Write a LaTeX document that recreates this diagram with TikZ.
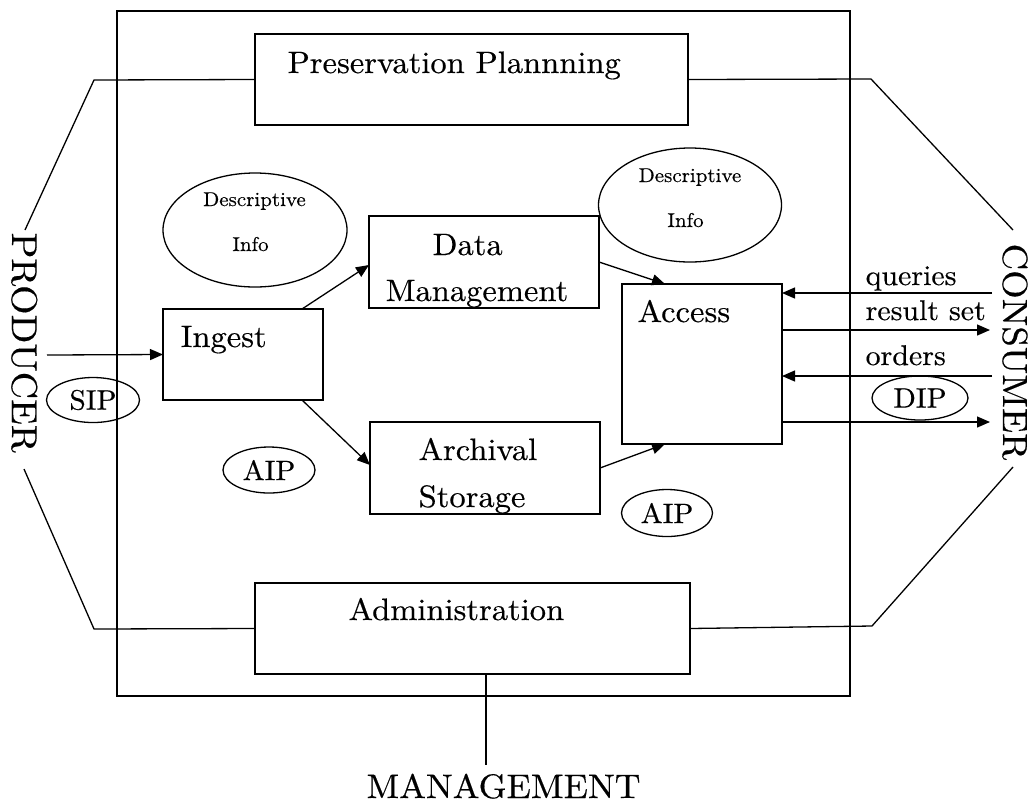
\documentclass[tikz,border=0pt]{standalone}
\usepackage{fontspec}
\setmainfont{lmroman10-regular.otf}[FakeStretch=1.05, FakeBold=0.4]
\usetikzlibrary{arrows.meta,shapes.geometric}
\begin{document}
\begin{tikzpicture}[x=1pt,y=-1pt, line width=1.3pt,
  box/.style={draw, rectangle, inner sep=0pt, outer sep=0pt},
  bubble/.style={draw, ellipse, inner sep=0pt, outer sep=0pt, font=\fontsize{28}{32}\selectfont},
  lbl/.style={inner sep=0pt, anchor=base west, font=\fontsize{31}{36}\selectfont},
  tinylbl/.style={inner sep=0pt, anchor=base, font=\fontsize{20}{24}\selectfont},
  flowlbl/.style={inner sep=0pt, anchor=base west, font=\fontsize{28.5}{32}\selectfont},
  party/.style={inner sep=0pt, anchor=base west, rotate=-90, font=\fontsize{36}{43}\selectfont},
  flow/.style={-{Triangle[length=13pt,width=11pt]}}]

\useasboundingbox (0,0) rectangle (1030,807);

% OAIS boundary
\node[box, minimum width=733pt, minimum height=685pt] (oais) at (483.5,353.5) {};

% functional entities
\node[box, minimum width=433pt, minimum height=91pt] (plan) at (471.5,79.5) {};
\node[box, minimum width=435pt, minimum height=91pt] (admin) at (472.5,628.5) {};
\node[box, minimum width=160pt, minimum height=91pt] (ingest) at (243,354.5) {};
\node[box, minimum width=230pt, minimum height=92pt] (dm) at (484,262) {};
\node[box, minimum width=230pt, minimum height=92pt] (arch) at (485,468) {};
\node[box, minimum width=160pt, minimum height=160pt] (access) at (702,364) {};

\node[lbl] (planT) at (287,73) {Preservation Plannning};
\node[lbl] (adminT) at (348,620) {Administration};
\node[lbl] (ingestT) at (180,347) {Ingest};
\node[lbl] (dmT1) at (432,255) {Data};
\node[lbl] (dmT2) at (385,301) {Management};
\node[lbl] (archT1) at (418,460) {Archival};
\node[lbl] (archT2) at (418,507) {Storage};
\node[lbl] (accessT) at (637,322) {Access};

% information objects
\node[bubble, minimum width=184pt, minimum height=114pt] (di1) at (255,230) {};
\node[tinylbl] (di1a) at (254.5,206) {Descriptive};
\node[tinylbl] (di1b) at (250.5,251) {Info};
\node[bubble, minimum width=183pt, minimum height=114pt] (di2) at (690,205) {};
\node[tinylbl] (di2a) at (690,182) {Descriptive};
\node[tinylbl] (di2b) at (685.5,227) {Info};
\node[bubble, minimum width=93pt, minimum height=45pt] (sip) at (93,400) {SIP};
\node[bubble, minimum width=92pt, minimum height=46pt] (aip1) at (269,470) {AIP};
\node[bubble, minimum width=91pt, minimum height=47pt] (aip2) at (667,513) {AIP};
\node[bubble, minimum width=96pt, minimum height=44pt] (dip) at (920,398) {DIP};

% environment
\node[party] (producer) at (12,232) {PRODUCER};
\node[party, font=\fontsize{35}{42}\selectfont] (consumer) at (1003,243) {CONSUMER};
\node[inner sep=0pt, anchor=base, font=\fontsize{34}{40}\selectfont] (mgmt) at (503.5,798) {MANAGEMENT};

\coordinate (tl) at (94,80);
\coordinate (bl) at (94,629);
\coordinate (tr) at (871,79);
\coordinate (br) at (872,626);
\coordinate (prodN) at (25,230);
\coordinate (prodS) at (24,469);
\coordinate (consN) at (1013,230);
\coordinate (consS) at (1013,467);

\draw (plan.west) -- (tl) -- (prodN);
\draw (prodS) -- (bl) -- (admin.west);
\draw (plan.east) -- (tr) -- (consN);
\draw (consS) -- (br) -- (admin.east);

\coordinate (mgmtEnd) at (486,765);
\draw ([xshift=13.5pt]admin.south) -- (mgmtEnd);

% data flows
\coordinate (inSrc) at (47,355);
\draw[flow] (inSrc) -- (ingest.west);
\draw[flow] ([xshift=-21pt]ingest.north east) -- ([yshift=-3pt]dm.west);
\draw[flow] ([xshift=-21pt]ingest.south east) -- ([yshift=3pt]arch.west);
\draw[flow] (dm.east) -- ([xshift=-37pt]access.north);
\draw[flow] (arch.east) -- ([xshift=-37pt]access.south);

\coordinate (qSrc) at (992,293);
\coordinate (rDst) at (990,330);
\coordinate (oSrc) at (992,376);
\coordinate (dDst) at (990,422);
\draw[flow] (qSrc) -- ([yshift=-9pt]access.north east);
\draw[flow] ([yshift=-46pt]access.north east) -- (rDst);
\draw[flow] (oSrc) -- ([yshift=-92pt]access.north east);
\draw[flow] ([yshift=-138pt]access.north east) -- (dDst);

\node[flowlbl] (qT) at (865,285) {queries};
\node[flowlbl] (rT) at (865,320) {result set};
\node[flowlbl] (oT) at (865,365) {orders};
\end{tikzpicture}
\end{document}
